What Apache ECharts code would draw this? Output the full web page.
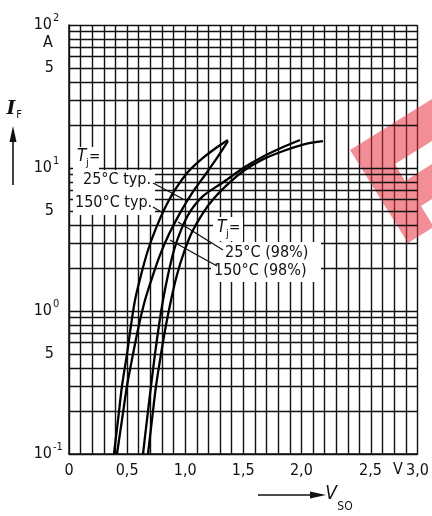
<!DOCTYPE html>
<html><head><meta charset="utf-8">
<script src="https://cdn.jsdelivr.net/npm/echarts@6/dist/echarts.min.js"></script>
<style>html,body{margin:0;padding:0;background:#fff}#c{width:432px;height:516px}</style>
</head><body><div id="c"></div>
<script>
// ---- data ----
const xTickValues = [0, 0.5, 1.0, 1.5, 2.0, 2.5, 3.0];
const xTickLabels = ['0', '0,5', '1,0', '1,5', '2,0', '2,5', '3,0'];
const yTickValues = [0.1, 0.5, 1, 5, 10, 50, 100];
const yTickLabels = ['10^-1', '5', '10^0', '5', '10^1', '5', '10^2'];

// 150 °C typ.
const vTyp150 = [0.387, 0.422, 0.456, 0.499, 0.534, 0.568, 0.620, 0.680, 0.749, 0.826, 0.912, 1.024, 1.153, 1.265, 1.368];
const iTyp150 = [0.1, 0.173, 0.299, 0.5, 0.798, 1.19, 1.785, 2.67, 3.80, 5.25, 7.02, 9.38, 11.76, 13.8, 15.7];
// 25 °C typ.
const vTyp25 = [0.413, 0.456, 0.499, 0.551, 0.602, 0.654, 0.714, 0.783, 0.861, 0.955, 1.059, 1.171, 1.274, 1.368];
const iTyp25 = [0.1, 0.173, 0.299, 0.5, 0.798, 1.19, 1.70, 2.46, 3.45, 4.84, 6.68, 8.94, 11.76, 15.4];
// 150 °C (98 %)
const vMax150 = [0.637, 0.671, 0.706, 0.740, 0.775, 0.809, 0.852, 0.904, 0.964, 1.041, 1.153, 1.330, 1.500, 1.660, 1.824, 1.988];
const iMax150 = [0.1, 0.173, 0.299, 0.5, 0.798, 1.19, 1.785, 2.67, 3.68, 4.93, 6.36, 7.98, 10.0, 11.9, 13.8, 15.7];
// 25 °C (98 %)
const vMax25 = [0.680, 0.714, 0.749, 0.792, 0.835, 0.878, 0.929, 0.990, 1.059, 1.153, 1.250, 1.370, 1.500, 1.660, 1.850, 2.030, 2.186];
const iMax25 = [0.1, 0.173, 0.299, 0.5, 0.798, 1.19, 1.785, 2.58, 3.57, 4.84, 6.16, 7.74, 9.53, 11.4, 13.2, 14.7, 15.4];

const labelTj = 'T';
const labelsLeft = ['25°C typ.', '150°C typ.'];
const labelsRight = ['25°C (98%)', '150°C (98%)'];

// ---- chart ----
const FONT_NUM = "'Liberation Sans Narrow','DejaVu Sans Condensed',sans-serif";
const FONT_TXT = "'DejaVu Sans Condensed','Liberation Sans Narrow',sans-serif";
const INK = '#111';

const gridY = [];
[0.1, 1, 10].forEach(d => { for (let k = 1; k <= 9; k++) gridY.push(+(k * d).toPrecision(3)); });
gridY.push(100);

const zip = (a, b) => a.map((v, i) => [v, b[i]]);
const curve = (v, i) => ({
  type: 'line', data: zip(v, i), smooth: 0.3, symbol: 'none', z: 10, silent: true,
  lineStyle: { color: '#000', width: 2.3 }
});

const chart = echarts.init(document.getElementById('c'));
chart.setOption({
  animation: false,
  backgroundColor: '#fff',
  grid: { left: 69, right: 14, top: 25, bottom: 62 },
  xAxis: {
    type: 'value', min: 0, max: 3, interval: 0.1,
    axisLine: { show: true, lineStyle: { color: INK, width: 1.5 } },
    axisTick: { show: false },
    splitLine: { show: true, lineStyle: { color: INK, width: 1.4 } },
    axisLabel: {
      interval: 0, margin: 9, color: INK, fontSize: 16, fontFamily: FONT_NUM,
      formatter: v => {
        const k = xTickValues.findIndex(t => Math.abs(t - v) < 1e-6);
        if (k < 0) return '';
        return k === 5 ? '{s|' + xTickLabels[k] + '}' : xTickLabels[k];
      },
      rich: { s: { padding: [0, 0, 0, 22], fontSize: 16, fontFamily: FONT_NUM, color: INK } }
    }
  },
  yAxis: {
    type: 'log', logBase: 10, min: 0.1, max: 100,
    axisLine: { show: true, lineStyle: { color: INK, width: 1.5 } },
    axisTick: { show: false }, axisLabel: { show: false }, splitLine: { show: false }
  },
  series: [
    {
      type: 'line', data: [[0, 0.1]], symbol: 'none', z: 1, silent: true, lineStyle: { width: 0 },
      markLine: {
        silent: true, symbol: ['none', 'none'], label: { show: false }, animation: false,
        lineStyle: { color: INK, width: 1.4, type: 'solid' },
        emphasis: { disabled: true },
        data: gridY.map(v => ({ yAxis: v }))
      }
    },
    curve(vTyp150, iTyp150),
    curve(vTyp25, iTyp25),
    curve(vMax150, iMax150),
    curve(vMax25, iMax25)
  ]
});

const px = (x, y) => chart.convertToPixel({ gridIndex: 0 }, [x, y]);
const txt = (text, x, y, o = {}) => ({
  type: 'text', x, y, z: o.z || 8, silent: true,
  style: {
    text, fill: INK, fontSize: o.size || 16, fontFamily: o.family || FONT_TXT,
    fontStyle: o.italic ? 'italic' : 'normal', fontWeight: o.bold ? 'bold' : 'normal',
    align: o.align || 'left', verticalAlign: o.valign || 'middle'
  }
});
const rect = (x, y, w, h) => ({ type: 'rect', z: 6, silent: true, shape: { x, y, width: w, height: h }, style: { fill: '#fff' } });
const seg = (x1, y1, x2, y2, w) => ({ type: 'line', z: 9, silent: true, shape: { x1, y1, x2, y2 }, style: { stroke: INK, lineWidth: w || 1.3 } });

const g = [];
// y tick labels
yTickValues.forEach((v, k) => {
  const y = px(0, v)[1];
  const lab = yTickLabels[k];
  if (lab.startsWith('10^')) {
    g.push(txt('10', 52, y, { align: 'right', family: FONT_NUM }));
    g.push(txt(lab.slice(3), 53, y - 7, { family: FONT_NUM, size: 11 }));
  } else {
    g.push(txt(lab, 54, y, { align: 'right', family: FONT_NUM }));
  }
});
g.push(txt('A', 48, 43, { align: 'center', family: FONT_NUM }));
g.push(txt('V', 398, 470, { align: 'center', family: FONT_NUM }));

// axis titles with arrows
g.push(txt('I', 11, 109, { align: 'center', italic: true, bold: true, size: 19, family: "'DejaVu Serif',serif" }));
g.push(txt('F', 19, 115, { align: 'center', size: 11, family: FONT_TXT }));
g.push(seg(13, 185, 13, 138, 1.6));
g.push({ type: 'polygon', z: 9, silent: true, shape: { points: [[13, 126], [9.5, 142], [16.5, 142]] }, style: { fill: INK } });
g.push(seg(258, 495, 314, 495, 1.6));
g.push({ type: 'polygon', z: 9, silent: true, shape: { points: [[326, 495], [310, 491.5], [310, 498.5]] }, style: { fill: INK } });
g.push(txt('V', 331, 494, { align: 'center', italic: true, size: 19, family: FONT_TXT }));
g.push(txt('SO', 345, 507, { align: 'center', size: 12, family: FONT_TXT }));

// watermark
g.push({
  type: 'polygon', z: 4, silent: true,
  shape: { points: [[350, 150], [432, 99], [432, 141], [395, 164], [405, 181], [432, 164], [432, 199], [421, 206], [432, 224], [432, 228], [408, 243]] },
  style: { fill: 'rgba(232,50,62,0.55)' }
});

// curve labels: white boxes
g.push(rect(73, 147, 26, 23));
g.push(rect(73, 170, 82, 45));
g.push(rect(213, 217, 30, 24));
g.push(rect(211, 242, 110, 40));
// left labels
g.push(txt(labelTj, 77, 157, { italic: true, size: 17 }));
g.push(txt('j', 86, 163, { size: 11 }));
g.push(txt('=', 89, 157, { size: 15 }));
g.push(txt(labelsLeft[0], 83, 180));
g.push(txt(labelsLeft[1], 75, 203));
// right labels
g.push(txt(labelTj, 217, 228, { italic: true, size: 17 }));
g.push(txt('j', 226, 234, { size: 11 }));
g.push(txt('=', 229, 228, { size: 15 }));
g.push(txt(labelsRight[0], 225, 253));
g.push(txt(labelsRight[1], 214, 271));
// leaders
g.push(seg(153, 183, 183, 199));
g.push(seg(153, 207, 163, 213));
g.push(seg(223, 250, 178, 222));
g.push(seg(217, 266, 170, 240));

chart.setOption({ graphic: g });
</script>
</body></html>
